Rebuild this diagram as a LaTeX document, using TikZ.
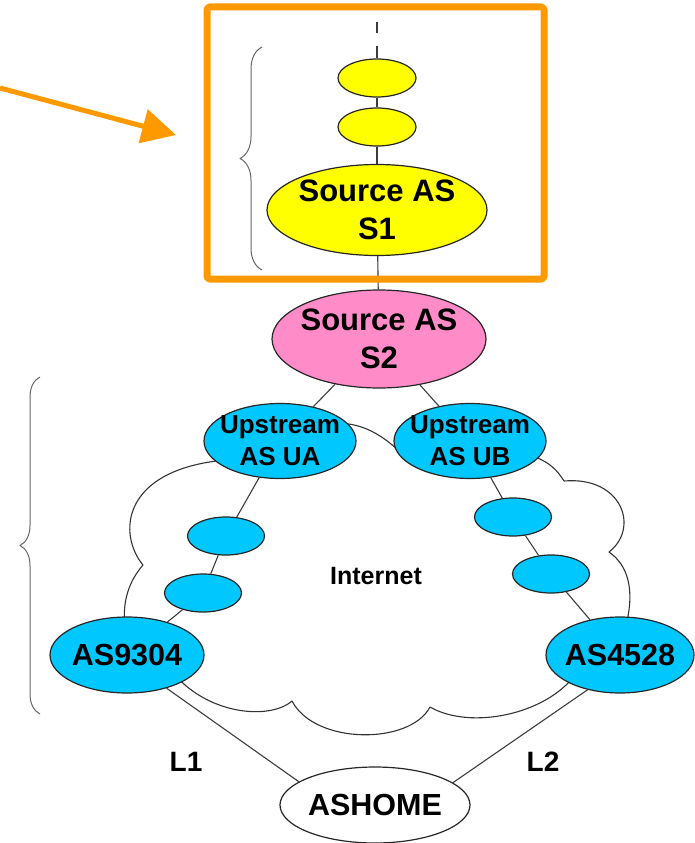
\documentclass[tikz,border=0pt]{standalone}
\usepackage{fontspec}
\setmainfont{Liberation Sans}
\usepackage{tikz}
\usetikzlibrary{arrows.meta,decorations.pathreplacing,shapes.geometric}
\definecolor{asyellow}{RGB}{255,255,0}
\definecolor{aspink}{RGB}{255,140,200}
\definecolor{asblue}{RGB}{0,200,255}
\definecolor{hilite}{RGB}{255,153,0}
\definecolor{wire}{RGB}{60,60,60}
\tikzset{
  asnode/.style={ellipse,draw=black!85,line width=1.2pt,inner sep=-10pt,align=center},
  bigas/.style={asnode,font=\bfseries\fontsize{31}{38}\selectfont},
  upas/.style={asnode,fill=asblue,minimum width=152pt,minimum height=75pt,
    font=\bfseries\fontsize{26}{32}\selectfont},
  edgeas/.style={asnode,minimum width=154pt,minimum height=76pt,
    font=\bfseries\fontsize{30.5}{36}\selectfont},
  hopy/.style={asnode,fill=asyellow,minimum width=78pt,minimum height=38pt},
  hopb/.style={asnode,fill=asblue,minimum width=77pt,minimum height=38pt},
  link/.style={draw=wire,line width=1.1pt},
  cloudline/.style={draw=black!80,line width=1.1pt},
  curly/.style={decorate,decoration={brace,amplitude=#1},draw=black!60,line width=1pt},
  tag/.style={font=\bfseries\fontsize{28}{34}\selectfont}
}

\begin{document}
\begin{tikzpicture}[x=1pt,y=-1pt,line join=round]
  \useasboundingbox (0,0) rectangle (694,843);

  % Internet cloud (drawn first, the ASes sit on top of it)
  \draw[cloudline] (330,424) .. controls (360,420) and (385,435) .. (410,462)
    -- (530,455)
    .. controls (550,462) and (557,470) .. (564,481)
    .. controls (622,476) and (640,528) .. (609,552)
    .. controls (628,565) and (635,590) .. (626,625)
    -- (575,675)
    .. controls (545,715) and (470,730) .. (430,707)
    .. controls (410,745) and (315,745) .. (292,701)
    .. controls (270,720) and (210,715) .. (175,675)
    -- (125,625)
    .. controls (122,600) and (130,580) .. (143,565)
    .. controls (118,535) and (120,470) .. (225,460)
    -- cycle;
  \node[font=\bfseries\fontsize{25}{30}\selectfont] (inet) at (376,576) {Internet};

  % Source chain
  \coordinate (top) at (377,22);
  \node[hopy] (y1) at (377,78) {};
  \node[hopy] (y2) at (377,127) {};
  \node[bigas,fill=asyellow,minimum width=220pt,minimum height=91pt] (s1) at (377,210) {Source AS\\S1};
  \node[bigas,fill=aspink,minimum width=214pt,minimum height=98pt] (s2) at (379,339) {Source AS\\S2};

  % Upstreams and paths through the Internet
  \node[upas] (ua) at (280,441) {Upstream\\AS UA};
  \node[upas] (ub) at (470,441) {Upstream\\AS UB};
  \node[hopb] (a1) at (226,536) {};
  \node[hopb] (a2) at (203,593) {};
  \node[hopb] (b1) at (513,517) {};
  \node[hopb] (b2) at (551,574) {};
  \node[edgeas,fill=asblue] (as9304) at (127,655) {AS9304};
  \node[edgeas,fill=asblue,minimum width=148pt] (as4528) at (620,655) {AS4528};

  % Home AS
  \node[edgeas,fill=white,minimum width=190pt] (ashome) at (375,805) {ASHOME};
  \node[tag] (l1) at (186,762) {L1};
  \node[tag] (l2) at (543,762) {L2};

  % Links
  \draw[link,dash pattern=on 11pt off 13pt on 40pt] (top) -- (y1);
  \draw[link] (y1) -- (y2);
  \draw[link] (y2) -- (s1);
  \draw[link] (s1) -- (s2);
  \draw[link] (s2) -- (ua);
  \draw[link] (s2) -- (ub);
  \draw[link] (ua) -- (a1);
  \draw[link] (a1) -- (a2);
  \draw[link] (a2) -- (as9304);
  \draw[link] (ub) -- (b1);
  \draw[link] (b1) -- (b2);
  \draw[link] (b2) -- (as4528);
  \draw[link] (as9304.-40) -- (ashome.163);
  \draw[link] (as4528.227) -- (ashome.16);

  % Braces
  \coordinate (bra) at (262,270);
  \coordinate (brb) at (262,47);
  \coordinate (brc) at (40,714);
  \coordinate (brd) at (40,377);
  \draw[curly=22pt] (bra) -- (brb);
  \draw[curly=20pt] (brc) -- (brd);

  % Highlight box and pointer
  \draw[hilite,line width=7pt,rounded corners=3pt] (207,7) rectangle (544,279);
  \coordinate (from) at (0,88);
  \coordinate (to) at (176,135);
  \draw[hilite,line width=5pt,-{Triangle[length=34pt,width=34pt]}] (from) -- (to);

\end{tikzpicture}
\end{document}
